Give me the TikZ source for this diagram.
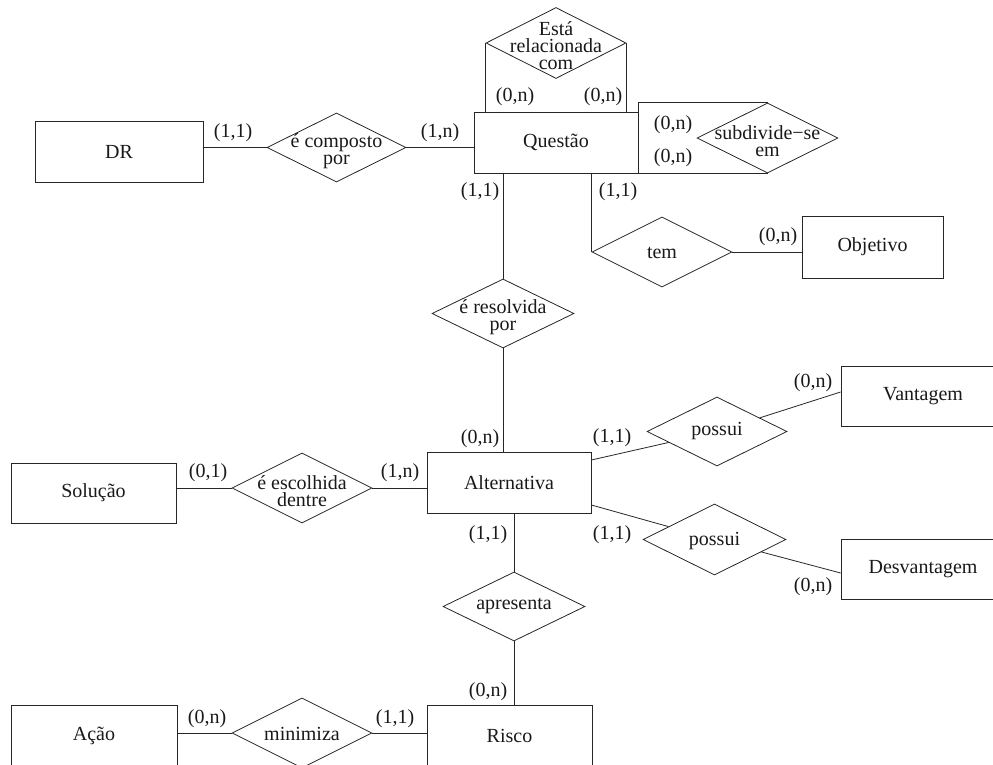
\documentclass[tikz,border=0pt]{standalone}
\usepackage{fontspec}
\setmainfont{Liberation Serif}
\usetikzlibrary{shapes.geometric,calc}
\newcommand\erfont{\fontsize{20}{17}\selectfont\lineskiplimit=-30pt\relax\lineskip=0pt\relax}
\begin{document}
\begin{tikzpicture}[x=1pt,y=-1pt,
  every node/.style={font=\erfont, text=black!90},
  ent/.style={draw=black!85, line width=0.8pt, minimum width=164pt, minimum height=61pt, inner sep=0pt},
  rel/.style={draw=black!85, diamond, line width=0.8pt, minimum width=140pt, minimum height=70pt, inner sep=0pt},
  txt/.style={align=center, inner sep=0pt},
  card/.style={inner sep=0pt},
  link/.style={draw=black!85, line width=0.8pt}]

\useasboundingbox (0,0) rectangle (993,765);
\clip (0,0) rectangle (993,765);

% entities
\node[ent, minimum width=168pt] (dr) at (119,151.5) {DR};
\node[ent] (q) at (556,142.5) {Questão};
\node[ent, minimum width=141pt, minimum height=62pt] (obj) at (872.5,247) {Objetivo};
\node[ent] (alt) at (509,482.5) {Alternativa};
\node[ent, minimum width=165pt, minimum height=60pt] (sol) at (93.5,493) {Solução};
\node[ent, minimum height=60pt] (van) at (923,396) {Vantagem};
\node[ent, minimum height=60pt] (des) at (923,569) {Desvantagem};
\node[ent, minimum width=165pt] (ris) at (509.5,735.5) {Risco};
\node[ent, minimum width=166pt] (aca) at (94,735.5) {Ação};

% relationships
\node[rel, minimum height=71pt] (est) at (556,43) {};
\node[rel, minimum width=139pt, minimum height=69pt] (comp) at (336.5,147.5) {};
\node[rel, minimum width=141pt] (sub) at (767.5,138) {};
\node[rel] (tem) at (662,252) {};
\node[rel, minimum width=142pt, minimum height=69pt] (res) at (503,313.5) {};
\node[rel] (esc) at (302,488) {};
\node[rel, minimum height=69pt] (pos1) at (717,431.5) {};
\node[rel, minimum width=143pt, minimum height=71pt] (pos2) at (714.5,539.5) {};
\node[rel, minimum width=142pt, minimum height=69pt] (apr) at (514,606.5) {};
\node[rel] (min) at (302,733) {};

% relationship names
\node[txt] (estT) at (556,46) {Está\\relacionada\\com};
\node[txt] (compT) at (336.5,151) {é composto\\por};
\node[txt] (subT) at (767.5,141) {subdivide−se\\em};
\node[txt] (temT) at (662,253) {tem};
\node[txt] (resT) at (503,317) {é resolvida\\por};
\node[txt] (escT) at (302,491) {é escolhida\\dentre};
\node[txt] (pos1T) at (717,431) {possui};
\node[txt] (pos2T) at (714.5,541) {possui};
\node[txt] (aprT) at (514,606) {apresenta};
\node[txt] (minT) at (302,734) {minimiza};

% connectors
\draw[link] (comp.west) -- (comp.west -| dr.east);
\draw[link] (comp.east) -- (comp.east -| q.west);
\draw[link] (est.west) -- (est.west |- q.north);
\draw[link] (est.east) -- (est.east |- q.north);
\draw[link] (q.north east) |- (sub.north);
\draw[link] (q.south east) -- (sub.south);
\draw[link] (res.north) -- (res.north |- q.south);
\draw[link] (res.south) -- (res.south |- alt.north);
\draw[link] (tem.west) -- (tem.west |- q.south);
\draw[link] (tem.east) -- (tem.east -| obj.west);
\draw[link] (esc.west) -- (esc.west -| sol.east);
\draw[link] (esc.east) -- (esc.east -| alt.west);
\draw[link] (alt.east |- 0,460) -- (pos1);
\draw[link] (pos1) -- (van.west |- 0,392);
\draw[link] (alt.east |- 0,505) -- (pos2);
\draw[link] (pos2) -- (des.west |- 0,573);
\draw[link] (apr.north) -- (apr.north |- alt.south);
\draw[link] (apr.south) -- (apr.south |- ris.north);
\draw[link] (min.west) -- (min.west -| aca.east);
\draw[link] (min.east) -- (min.east -| ris.west);

% cardinalities
\node[card] (c1) at (233,133) {(1,1)};
\node[card] (c2) at (440,133) {(1,n)};
\node[card] (c3) at (515,97) {(0,n)};
\node[card] (c4) at (603,97) {(0,n)};
\node[card] (c5) at (673,125) {(0,n)};
\node[card] (c6) at (673,158) {(0,n)};
\node[card] (c7) at (480,192) {(1,1)};
\node[card] (c8) at (618,192) {(1,1)};
\node[card] (c9) at (778,237) {(0,n)};
\node[card] (c10) at (480,439) {(0,n)};
\node[card] (c11) at (208,473) {(0,1)};
\node[card] (c12) at (400,473) {(1,n)};
\node[card] (c13) at (612,438) {(1,1)};
\node[card] (c14) at (813,383) {(0,n)};
\node[card] (c15) at (612,535) {(1,1)};
\node[card] (c16) at (813,587) {(0,n)};
\node[card] (c17) at (488,535) {(1,1)};
\node[card] (c18) at (488,692) {(0,n)};
\node[card] (c19) at (207,719) {(0,n)};
\node[card] (c20) at (395,719) {(1,1)};
\end{tikzpicture}
\end{document}
